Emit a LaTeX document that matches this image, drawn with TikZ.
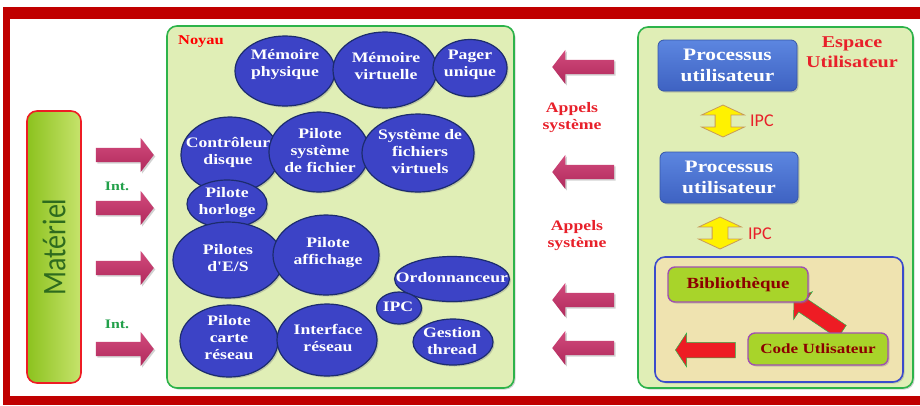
\documentclass[tikz,border=0pt]{standalone}
\usepackage{fontspec}
\setmainfont{Liberation Serif}
\newfontfamily\lbl[FakeStretch=1.22]{Liberation Serif}
\newfontfamily\ssf{Carlito}
\newfontfamily\matfont[FakeStretch=0.85]{Carlito}
\usetikzlibrary{shapes.geometric,shapes.arrows,shadows}

\definecolor{framered}{HTML}{C00000}
\definecolor{zonefill}{HTML}{E0EEB6}
\definecolor{zoneline}{HTML}{2DB34A}
\definecolor{ellblue}{HTML}{3C43C6}
\definecolor{ellline}{HTML}{1C2C6E}
\definecolor{procA}{HTML}{5C86E0}
\definecolor{procB}{HTML}{3E62C2}
\definecolor{procline}{HTML}{3656A8}
\definecolor{pinkA}{HTML}{D24A7C}
\definecolor{pinkB}{HTML}{B02A5C}
\definecolor{txtred}{HTML}{E8202A}
\definecolor{intgreen}{HTML}{22A04A}
\definecolor{libfill}{HTML}{EFE3B0}
\definecolor{libline}{HTML}{3A4CCC}
\definecolor{boxgreen}{HTML}{A8D42A}
\definecolor{boxpurple}{HTML}{A050B0}
\definecolor{darkred}{HTML}{8B0000}
\definecolor{arrowred}{HTML}{EE1C24}
\definecolor{yelline}{HTML}{C89A5A}
\definecolor{matA}{HTML}{8CC21E}
\definecolor{matB}{HTML}{C6E36C}
\definecolor{mattext}{HTML}{2E6B1E}

\tikzset{
  softshadow/.style={drop shadow={opacity=0.35, shadow xshift=1.5pt, shadow yshift=-1.5pt}},
  zone/.style={draw=zoneline, line width=1.6pt, fill=zonefill, rounded corners=10pt, softshadow},
  kern/.style={ellipse, draw=ellline, line width=1.2pt, fill=ellblue, inner sep=0pt, softshadow},
  klabel/.style={text=white, font=\lbl\bfseries\fontsize{14.5}{17}\selectfont, align=center, inner sep=0pt},
  procbox/.style={rounded corners=6pt, draw=procline, line width=0.8pt, top color=procA, bottom color=procB,
    text=white, font=\lbl\bfseries\fontsize{17.5}{20.5}\selectfont, align=center, softshadow},
  libbox/.style={rounded corners=7pt, draw=boxpurple, line width=1.4pt, fill=boxgreen, text=darkred,
    font=\lbl\bfseries\fontsize{15.5}{18}\selectfont, softshadow},
  pinkarrow/.style={single arrow, draw=none, top color=pinkA, bottom color=pinkB,
    minimum height=#1, inner xsep=0pt, inner ysep=7pt, single arrow head extend=10pt,
    single arrow tip angle=105, softshadow},
  yelarrow/.style={double arrow, draw=yelline, line width=0.8pt, fill=yellow,
    minimum height=32pt, inner xsep=0pt, inner ysep=7.5pt, double arrow head extend=13.5pt,
    double arrow tip angle=130, rotate=90},
  redarrow/.style={single arrow, draw=zoneline, line width=0.5pt, fill=arrowred,
    minimum height=#1, inner xsep=0pt, inner ysep=7.5pt, single arrow head extend=9pt,
    single arrow tip angle=113},
  redlabel/.style={text=txtred, font=\lbl\bfseries\fontsize{14.5}{17}\selectfont, align=center},
  intlabel/.style={text=intgreen, font=\lbl\bfseries\fontsize{13}{15}\selectfont},
  ipclabel/.style={text=txtred, font=\ssf\fontsize{18}{20}\selectfont, anchor=west, inner sep=0pt}
}

\begin{document}
\begin{tikzpicture}[x=1pt,y=-1pt]
\useasboundingbox (0,0) rectangle (920,405);

% page frame
\fill[framered] (3,7) rectangle (920,405);
\fill[white] (10,19) rectangle (920,396);

% hardware bar
\node[draw=arrowred, line width=1.6pt, rounded corners=10pt, left color=matA, right color=matB,
      minimum width=54pt, minimum height=272pt, inner sep=0pt] (mat) at (54,247) {};
\node[rotate=90, text=mattext, font=\matfont\fontsize{33}{36}\selectfont] (matlbl) at (mat) {Matériel};

% interrupt arrows
\foreach \yy/\nm in {155/i1, 208/i2, 268/i3, 349/i4}
  \node[pinkarrow=58pt] (\nm) at (122,\yy) {};
\node[intlabel] (int1) at (117,186) {Int.};
\node[intlabel] (int2) at (117,324) {Int.};

% kernel zone
\node[zone, minimum width=347pt, minimum height=362pt, inner sep=0pt] (noyau) at (340.5,207) {};
\node[text=red, font=\lbl\bfseries\fontsize{13.5}{15}\selectfont] (noyaulbl) at (201,42) {Noyau};

% kernel components: all shapes first
\node[kern, minimum width=100pt, minimum height=70pt] (memp) at (285,71) {};
\node[kern, minimum width=104pt, minimum height=76pt] (memv) at (385,70) {};
\node[kern, minimum width=74pt, minimum height=57pt] (pager) at (470,68) {};
\node[kern, minimum width=98pt, minimum height=76pt] (ctrl) at (230,155) {};
\node[kern, minimum width=100pt, minimum height=80pt] (psf) at (319,152) {};
\node[kern, minimum width=112pt, minimum height=78pt] (sfv) at (418,153) {};
\node[kern, minimum width=80pt, minimum height=48pt] (horl) at (227,204) {};
\node[kern, minimum width=110pt, minimum height=76pt] (pes) at (228,260) {};
\node[kern, minimum width=106pt, minimum height=80pt] (paff) at (326,255) {};
\node[kern, minimum width=115pt, minimum height=45pt] (ordo) at (452,279) {};
\node[kern, minimum width=45pt, minimum height=32pt] (ipck) at (399,308) {};
\node[kern, minimum width=80pt, minimum height=46pt] (gest) at (453,342) {};
\node[kern, minimum width=98pt, minimum height=72pt] (pcr) at (229,341) {};
\node[kern, minimum width=100pt, minimum height=72pt] (ires) at (327,340) {};

% ... then their labels on top
\node[klabel] (mempl) at (285,65) {Mémoire\\physique};
\node[klabel] (memvl) at (386,66) {Mémoire\\virtuelle};
\node[klabel] (pagerl) at (470,65) {Pager\\unique};
\node[klabel] (ctrll) at (228,152) {Contrôleur\\disque};
\node[klabel] (psfl) at (320,151) {Pilote\\système\\de fichier};
\node[klabel] (sfvl) at (420,152) {Système de\\fichiers\\virtuels};
\node[klabel] (horll) at (227,203) {Pilote\\horloge};
\node[klabel] (pesl) at (228,258) {Pilotes\\d'E/S};
\node[klabel] (paffl) at (328,253) {Pilote\\affichage};
\node[klabel] (ordol) at (452,278) {Ordonnanceur};
\node[klabel] (ipckl) at (398,307) {IPC};
\node[klabel] (gestl) at (452,341) {Gestion\\thread};
\node[klabel] (pcrl) at (229,338) {Pilote\\carte\\réseau};
\node[klabel] (iresl) at (328,338) {Interface\\réseau};

% system call arrows
\foreach \yy/\nm in {67/s1, 172/s2, 300/s3, 348/s4}
  \node[pinkarrow=62pt, rotate=180] (\nm) at (586,\yy) {};
\node[redlabel] (app1) at (572,118) {Appels\\système};
\node[redlabel] (app2) at (577,236) {Appels\\système};

% user space zone
\node[zone, minimum width=275pt, minimum height=361pt, inner sep=0pt] (espace) at (775.5,207.5) {};
\node[text=txtred, font=\lbl\bfseries\fontsize{16.5}{20}\selectfont, align=center] (espacelbl) at (852,52) {Espace\\Utilisateur};

\node[procbox, minimum width=139pt, minimum height=51pt, inner sep=0pt] (proc1) at (727.5,65.5) {Processus\\utilisateur};
\node[procbox, minimum width=138pt, minimum height=51pt, inner sep=0pt] (proc2) at (729,177.5) {Processus\\utilisateur};

\node[yelarrow] (ya1) at (723,121) {};
\node[ipclabel] (ipc1) at (750,121) {IPC};
\node[yelarrow] (ya2) at (720,233) {};
\node[ipclabel] (ipc2) at (748,234) {IPC};

% library area
\node[draw=libline, line width=1.6pt, fill=libfill, rounded corners=10pt, softshadow,
      minimum width=248pt, minimum height=125pt, inner sep=0pt] (libzone) at (779,319.5) {};
\node[redarrow=58pt, rotate=146] (darr) at (820,317) {};
\node[redarrow=60pt, rotate=180] (larr) at (708,350) {};
\node[libbox, minimum width=140pt, minimum height=35pt, inner sep=0pt] (biblio) at (738,284.5) {Bibliothèque};
\node[libbox, minimum width=140pt, minimum height=32pt, inner sep=0pt,
      font=\lbl\bfseries\fontsize{14}{16}\selectfont] (code) at (818,349) {Code Utlisateur};
\end{tikzpicture}
\end{document}
